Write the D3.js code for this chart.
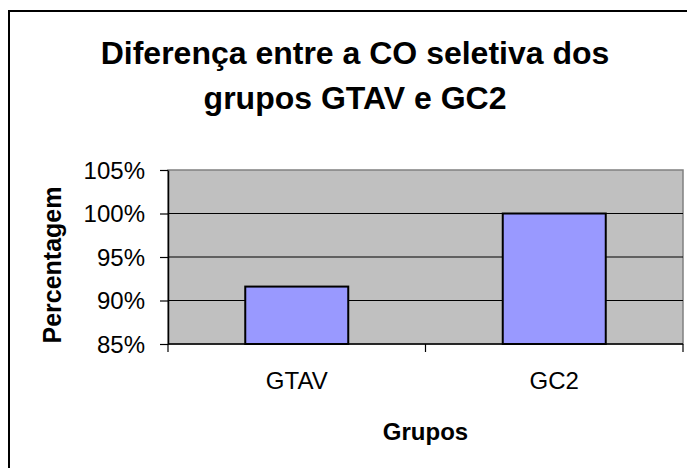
<!DOCTYPE html>
<html>
<head>
<meta charset="utf-8">
<script src="https://cdn.jsdelivr.net/npm/d3@7"></script>
<style>
  body { margin: 0; background: #fff; }
  text { font-family: "Liberation Sans", Arial, sans-serif; fill: #000; }
</style>
</head>
<body>
<svg id="chart"></svg>
<script>
var w = 687;
var h = 468;

// data
var grupos = ["GTAV", "GC2"];
var valores = [0.916, 1.0];
var yTicks = [0.85, 0.90, 0.95, 1.00, 1.05];

var svg = d3.select("#chart")
  .attr("width", w)
  .attr("height", h)

// outer chart border (runs off the right/bottom edge)
svg.append("rect")
  .attr("x", 9).attr("y", 11)
  .attr("width", w + 20).attr("height", h + 20)
  .attr("fill", "#fff")
  .attr("stroke", "#000")
  .attr("stroke-width", 2)

var margin = {left: 168, top: 170, right: 4, bottom: 124};
var pw = w - margin.left - margin.right;
var ph = h - margin.top - margin.bottom;

var g = svg.append("g")
  .attr("transform", "translate(" + margin.left + "," + margin.top + ")")

var x = d3.scaleBand()
  .domain(grupos)
  .range([0, pw])
  .paddingInner(0.6)
  .paddingOuter(0.3)

var y = d3.scaleLinear()
  .domain([0.85, 1.05])
  .range([ph, 0])

// plot area
g.append("rect")
  .attr("width", pw).attr("height", ph)
  .attr("fill", "#c0c0c0")
  .attr("stroke", "#808080")
  .attr("stroke-width", 1.5)

// gridlines
g.selectAll(".grid")
  .data(yTicks.slice(1, -1))
  .enter()
  .append("line")
  .attr("x1", 0).attr("x2", pw)
  .attr("y1", function(d) { return y(d); })
  .attr("y2", function(d) { return y(d); })
  .attr("stroke", "#000")
  .attr("stroke-width", 1.2)

// bars
g.selectAll(".bar")
  .data(valores)
  .enter()
  .append("rect")
  .attr("x", function(d, i) { return x(grupos[i]); })
  .attr("y", function(d) { return y(d); })
  .attr("width", x.bandwidth())
  .attr("height", function(d) { return ph - y(d); })
  .attr("fill", "#9999ff")
  .attr("stroke", "#000")
  .attr("stroke-width", 2)

// y axis
var yAxis = g.append("g")
  .call(d3.axisLeft(y).tickValues(yTicks).tickFormat(d3.format(".0%")).tickSize(8).tickSizeOuter(0))
yAxis.select(".domain").attr("stroke", "#000").attr("stroke-width", 1.5)
yAxis.selectAll(".tick line").attr("stroke", "#000").attr("stroke-width", 1.2)
yAxis.selectAll(".tick text")
  .attr("x", -23)
  .attr("dy", "0.35em")
  .style("font-size", "24px")
  .style("font-family", "Liberation Sans, Arial, sans-serif")

// x axis: ticks at category boundaries
var xa = g.append("g").attr("transform", "translate(0," + ph + ")")
xa.append("line")
  .attr("x1", 0).attr("x2", pw)
  .attr("stroke", "#000").attr("stroke-width", 1.5)
var step = pw / grupos.length;
xa.selectAll(".xt")
  .data(d3.range(grupos.length + 1))
  .enter()
  .append("line")
  .attr("x1", function(d) { return d * step; })
  .attr("x2", function(d) { return d * step; })
  .attr("y1", 0).attr("y2", 8)
  .attr("stroke", "#000").attr("stroke-width", 1.2)
xa.selectAll(".xl")
  .data(grupos)
  .enter()
  .append("text")
  .attr("x", function(d) { return x(d) + x.bandwidth() / 2; })
  .attr("y", 45)
  .attr("text-anchor", "middle")
  .style("font-size", "24px")
  .text(function(d) { return d; })

// titles
var title = svg.append("text")
  .attr("text-anchor", "middle")
  .style("font-size", "32px")
  .style("font-weight", "bold")
title.append("tspan").attr("x", 355).attr("y", 64).text("Diferença entre a CO seletiva dos")
title.append("tspan").attr("x", 355).attr("y", 109).text("grupos GTAV e GC2")

svg.append("text")
  .attr("x", margin.left + pw / 2)
  .attr("y", 440)
  .attr("text-anchor", "middle")
  .style("font-size", "24px")
  .style("font-weight", "bold")
  .text("Grupos")

svg.append("text")
  .attr("transform", "translate(61,265) rotate(-90)")
  .attr("text-anchor", "middle")
  .style("font-size", "25px")
  .style("font-weight", "bold")
  .text("Percentagem")
</script>
</body>
</html>
